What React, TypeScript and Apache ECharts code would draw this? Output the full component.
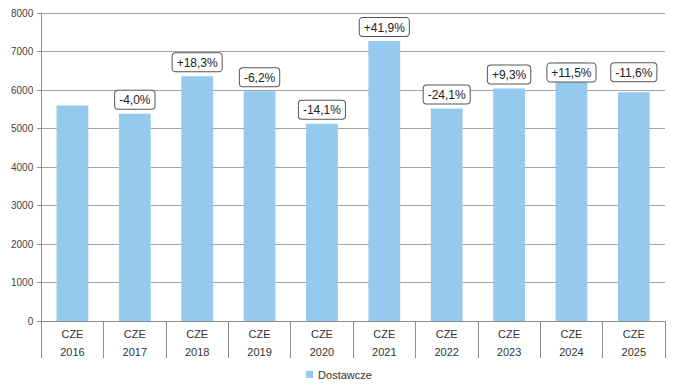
import React, { useEffect, useRef } from "react";
import * as echarts from "echarts";

const years = ["2016", "2017", "2018", "2019", "2020", "2021", "2022", "2023", "2024", "2025"];
const country = "CZE";
const values = [5600, 5380, 6360, 5965, 5125, 7270, 5520, 6040, 6715, 5940];
const changeLabels = ["", "-4,0%", "+18,3%", "-6,2%", "-14,1%", "+41,9%", "-24,1%", "+9,3%", "+11,5%", "-11,6%"];
const seriesName = "Dostawcze";
const yTicks = { min: 0, max: 8000, interval: 1000 };

const labelOffsets: Record<number, [number, number]> = { 8: [0, 24], 9: [0, -6] };

export default function App() {
  const ref = useRef<HTMLDivElement>(null);
  useEffect(() => {
    if (!ref.current) return;
    const chart = echarts.init(ref.current, undefined, { renderer: "svg" });
    const font = "'Liberation Sans', Arial, sans-serif";
    chart.setOption({
      animation: false,
      textStyle: { fontFamily: font },
      grid: { left: 27, right: 5, top: 3, bottom: 59, containLabel: false },
      legend: {
        data: [seriesName],
        top: 356,
        left: "center",
        icon: "rect",
        itemWidth: 7,
        itemHeight: 7,
        itemGap: 4,
        textStyle: { fontSize: 11, color: "#333", fontFamily: font },
      },
      xAxis: {
        type: "category",
        data: years,
        axisLine: { show: true, lineStyle: { color: "#8c8c8c" } },
        axisTick: { show: true, interval: 0, length: 37, lineStyle: { color: "#8c8c8c" } },
        axisLabel: {
          interval: 0,
          margin: 4,
          lineHeight: 18,
          fontSize: 11,
          color: "#333",
          formatter: (v: string) => `${country}\n${v}`,
        },
      },
      yAxis: {
        type: "value",
        min: yTicks.min,
        max: yTicks.max,
        interval: yTicks.interval,
        axisLine: { show: true, lineStyle: { color: "#8c8c8c" } },
        axisTick: { show: true, length: 4, lineStyle: { color: "#8c8c8c" } },
        axisLabel: { fontSize: 10, color: "#444", margin: 8, formatter: (v: number) => String(v) },
        splitLine: { show: true, lineStyle: { color: "#a3a3a3" } },
      },
      series: [
        {
          name: seriesName,
          type: "bar",
          barWidth: "51%",
          itemStyle: { color: "#95C9ED" },
          data: values.map((v, i) => ({
            value: v,
            label: {
              show: changeLabels[i] !== "",
              position: "top",
              distance: 5,
              offset: labelOffsets[i] || [0, 0],
              formatter: changeLabels[i],
              fontSize: 12,
              lineHeight: 13,
              color: "#222",
              backgroundColor: "#fff",
              borderColor: "#555",
              borderWidth: 1,
              borderRadius: 3,
              padding: [3, 4, 2, 4],
              fontFamily: font,
            },
          })),
        },
      ],
    });
    return () => chart.dispose();
  }, []);
  return <div ref={ref} style={{ width: 662, height: 372 }} />;
}
